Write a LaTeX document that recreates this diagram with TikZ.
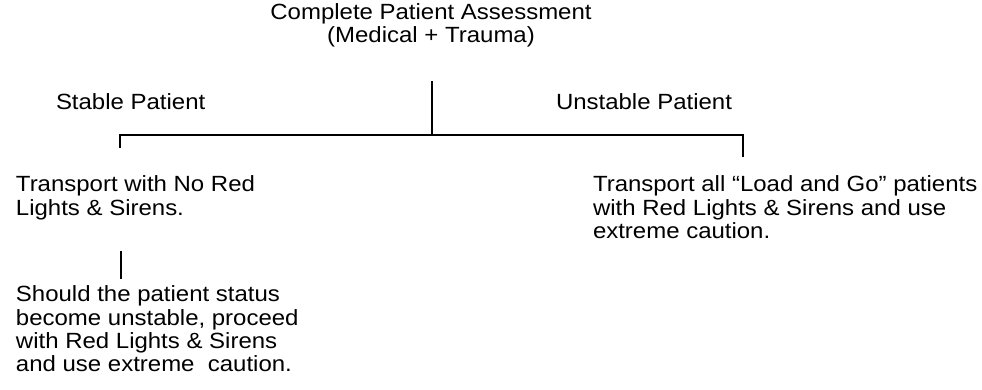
\documentclass[tikz,border=0pt]{standalone}
\usepackage{fontspec}
\setmainfont{Liberation Sans}[FakeStretch=1.09]
\tikzset{
  txt/.style={inner sep=0pt, align=left, font=\fontsize{22}{23.4}\selectfont},
  ttl/.style={txt, align=center}
}

\begin{document}
\begin{tikzpicture}[x=1pt, y=-1pt, line width=2pt]
\useasboundingbox (0,0) rectangle (982,389);

% headings
\node[ttl, anchor=north] (assess) at (431,2.5) {Complete Patient Assessment\\(Medical + Trauma)};
\node[txt, anchor=base west] (stable) at (55,109) {Stable Patient};
\node[txt, anchor=base west] (unstable) at (555,109) {Unstable Patient};

% the two transport branches
\node[txt, anchor=north west] (nolights) at (15,175) {Transport with No Red\\Lights \& Sirens.};
\node[txt, anchor=north west] (loadgo) at (592,174.7) {Transport all “Load and Go” patients\\with Red Lights \& Sirens and use\\extreme caution.};
\node[txt, anchor=north west] (worse) at (15,284.7) {Should the patient status\\become unstable, proceed\\with Red Lights \& Sirens\\and use extreme\ \ caution.};

% tree lines
\coordinate (top) at (432,81);
\coordinate (fork) at (432,135);
\coordinate (lfork) at (120,135);
\coordinate (rfork) at (743,135);
\coordinate (ltick) at (120,148);
\coordinate (rtick) at (743,157);
\coordinate (s1) at (121,251);
\coordinate (s2) at (121,279);

\draw (top) -- (fork);
\draw (ltick) -- (lfork) -- (rfork) -- (rtick);
\draw (s1) -- (s2);
\end{tikzpicture}
\end{document}
